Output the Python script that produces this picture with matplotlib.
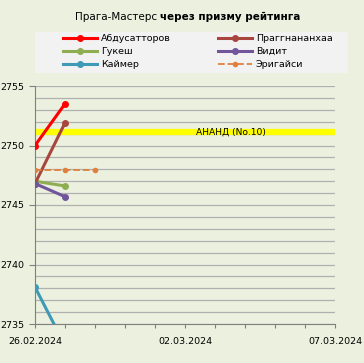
import datetime as dt
import matplotlib
matplotlib.use('Agg')
import matplotlib.pyplot as plt
import matplotlib.dates as mdates
from matplotlib.patches import Rectangle
from matplotlib.ticker import MultipleLocator

plt.rcParams['font.family'] = ['DejaVu Sans']

# ratings by round date
dates = ['26.02.2024', '27.02.2024', '28.02.2024']
players = ['Абдусатторов', 'Гукеш', 'Каймер', 'Праггнананхаа', 'Видит', 'Эригайси']
ratings = {
    'Абдусатторов': [2750.0, 2753.5],
    'Гукеш': [2747.0, 2746.6],
    'Каймер': [2738.1, 2733.2],
    'Праггнананхаа': [2746.8, 2751.9],
    'Видит': [2746.8, 2745.7],
    'Эригайси': [2747.9, 2747.9, 2747.9],
}
colors = {
    'Абдусатторов': '#ff0000',
    'Гукеш': '#8fae52',
    'Каймер': '#3e9ab6',
    'Праггнананхаа': '#a8453f',
    'Видит': '#72569c',
    'Эригайси': '#e0803f',
}
anand = 2751.1
anand_label = 'АНАНД (No.10)'
x_labels = ['26.02.2024', '02.03.2024', '07.03.2024']

bg = '#ebf1de'
day = [dt.datetime.strptime(d, '%d.%m.%Y') for d in dates]
xl = [dt.datetime.strptime(d, '%d.%m.%Y') for d in x_labels]

fig = plt.figure(figsize=(3.64, 3.63), dpi=100, facecolor=bg)
ax = fig.add_axes([35 / 364, 1 - 324 / 363, 300 / 364, 238 / 363])
ax.set_facecolor(bg)

ax.axhline(anand, color='#ffff00', lw=4.5, zorder=2)
ax.text(dt.datetime(2024, 3, 2, 9), anand, anand_label, fontsize=6.6,
        va='center', ha='left', zorder=5)

for p in players:
    vals = ratings[p]
    dashed = p == 'Эригайси'
    ax.plot(day[:len(vals)], vals, '--' if dashed else '-', color=colors[p],
            lw=1.3 if dashed else 2.2, marker='o', ms=3 if dashed else 4,
            label=p, zorder=4)

ax.set_xlim(xl[0], xl[-1])
ax.set_ylim(2735, 2755)
ax.yaxis.set_major_locator(MultipleLocator(5))
ax.yaxis.set_minor_locator(MultipleLocator(1))
ax.grid(axis='y', which='both', color='#b0b0b0', lw=0.9, zorder=1)
ax.set_axisbelow(True)

ax.xaxis.set_major_locator(mdates.DayLocator())
ax.xaxis.set_major_formatter(
    plt.FuncFormatter(lambda v, pos: mdates.num2date(v).strftime('%d.%m.%Y')
                      if mdates.num2date(v).strftime('%d.%m.%Y') in x_labels else ''))
ax.tick_params(axis='x', length=3, color='#808080', labelsize=6.8, pad=6)
ax.tick_params(axis='y', which='major', length=4, color='#808080', labelsize=6.8)
ax.tick_params(axis='y', which='minor', length=0)
for s in ['top', 'right']:
    ax.spines[s].set_visible(False)
for s in ['left', 'bottom']:
    ax.spines[s].set_color('#808080')

fig.text(160 / 364, 1 - 17 / 363, 'Прага-Мастерс ', ha='right', va='center', fontsize=7.5)
fig.text(160 / 364, 1 - 17 / 363, 'через призму рейтинга', ha='left', va='center',
         fontsize=7.5, fontweight='bold')

# legend background box
fig.patches.append(Rectangle((35 / 364, 1 - 73 / 363), 313 / 364, 41 / 363,
                             transform=fig.transFigure, facecolor='#f2f2f2',
                             edgecolor='none', zorder=0))
fig.legend(loc='upper left', bbox_to_anchor=(63 / 364, 1 - 34 / 363),
           ncol=2, fontsize=6.8, frameon=False, handlelength=3.6,
           borderaxespad=0, borderpad=0, labelspacing=0.42,
           handletextpad=0.4, columnspacing=5.0)

fig.savefig('out.png', dpi=100, facecolor=bg)
